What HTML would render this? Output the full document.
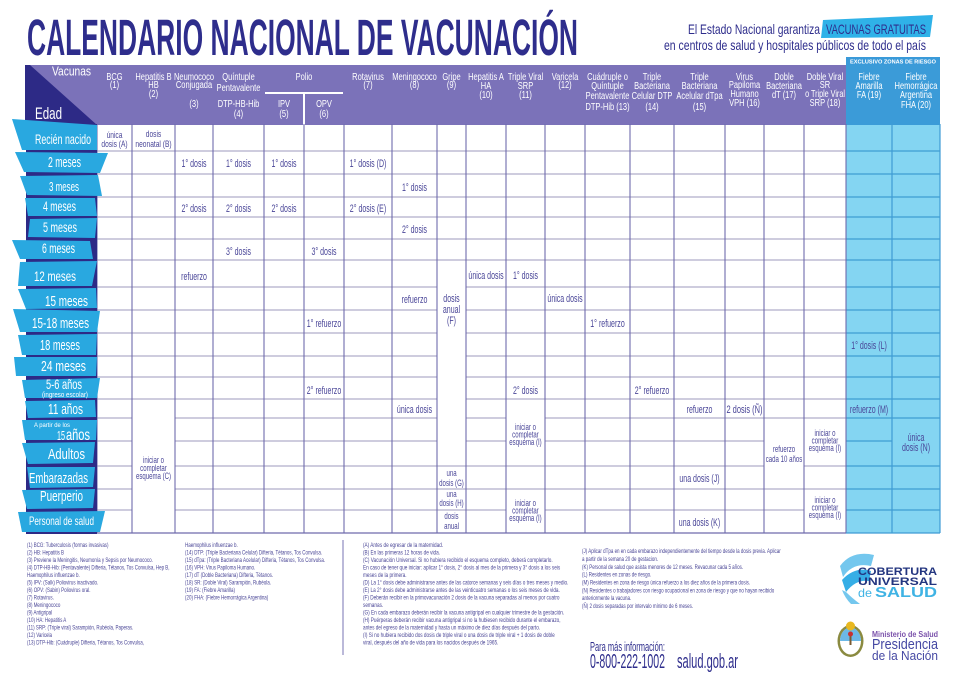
<!DOCTYPE html>
<html><head><meta charset="utf-8">
<style>
html,body{margin:0;padding:0;background:#fff;}
svg{display:block}
text{font-family:"Liberation Sans",sans-serif;}
.h{font-size:10px;fill:#fff;text-anchor:middle}
.c{font-size:11px;fill:#4a4698;text-anchor:middle}
.m{font-size:9.5px;fill:#4a4698;text-anchor:middle}
.f{font-size:6.4px;fill:#4a4696}
.r{fill:#fff}
</style></head>
<body>
<svg width="955" height="675" viewBox="0 0 955 675" xmlns="http://www.w3.org/2000/svg">
<rect width="955" height="675" fill="#fff"/>

<!-- Title -->
<text x="27" y="55" font-size="51" font-weight="bold" textLength="551" lengthAdjust="spacingAndGlyphs" fill="#2e2d8c">CALENDARIO NACIONAL DE VACUNACIÓN</text>

<!-- Subtitle -->
<text x="688" y="34" font-size="14" textLength="132" lengthAdjust="spacingAndGlyphs" fill="#2e2d8c">El Estado Nacional garantiza</text>
<polygon points="823,20 933,15 930,37 821,38" fill="#2fb2e8"/>
<text x="826" y="34" font-size="14" textLength="100" lengthAdjust="spacingAndGlyphs" fill="#2e2d8c">VACUNAS GRATUITAS</text>
<text x="664" y="50" font-size="14" textLength="262" lengthAdjust="spacingAndGlyphs" fill="#2e2d8c">en centros de salud y hospitales públicos de todo el país</text>

<!-- Exclusivo bar -->
<rect x="846" y="57" width="94" height="8.5" fill="#3a9ad9"/>
<text x="850" y="63.5" font-size="5.5" font-weight="bold" textLength="86" lengthAdjust="spacingAndGlyphs" fill="#fff">EXCLUSIVO ZONAS DE RIESGO</text>

<!-- Header band -->
<rect x="25" y="65" width="821" height="60" fill="#7b72b9"/>
<rect x="846" y="65" width="94" height="60" fill="#3b9bd8"/>
<polygon points="25,65 30,65 97,125 25,125" fill="#2d2a86"/>
<text x="52" y="75.5" font-size="13" textLength="39" lengthAdjust="spacingAndGlyphs" fill="#fff">Vacunas</text>
<text x="35" y="119" font-size="17" textLength="27" lengthAdjust="spacingAndGlyphs" fill="#fff">Edad</text>

<!-- Polio lines -->
<path d="M265 93H343M304 93V125" stroke="#fff" stroke-width="2" fill="none"/>

<!-- Header texts -->
<g>
<text class="h" transform="translate(114.5,80) scale(.75,1)">BCG</text>
<text class="h" transform="translate(114.5,88) scale(.75,1)">(1)</text>
<text class="h" transform="translate(153.5,80) scale(.75,1)">Hepatitis B</text>
<text class="h" transform="translate(153.5,88) scale(.75,1)">HB</text>
<text class="h" transform="translate(153.5,97) scale(.75,1)">(2)</text>
<text class="h" transform="translate(194,80) scale(.75,1)">Neumococo</text>
<text class="h" transform="translate(194,88) scale(.75,1)">Conjugada</text>
<text class="h" transform="translate(194,107) scale(.75,1)">(3)</text>
<text class="h" transform="translate(238.5,80) scale(.75,1)">Quíntuple</text>
<text class="h" transform="translate(238.5,91) scale(.75,1)">Pentavalente</text>
<text class="h" transform="translate(238.5,107) scale(.75,1)">DTP-HB-Hib</text>
<text class="h" transform="translate(238.5,117) scale(.75,1)">(4)</text>
<text class="h" transform="translate(304,80) scale(.75,1)">Polio</text>
<text class="h" transform="translate(284,107) scale(.75,1)">IPV</text>
<text class="h" transform="translate(284,117) scale(.75,1)">(5)</text>
<text class="h" transform="translate(324,107) scale(.75,1)">OPV</text>
<text class="h" transform="translate(324,117) scale(.75,1)">(6)</text>
<text class="h" transform="translate(368,80) scale(.75,1)">Rotavirus</text>
<text class="h" transform="translate(368,88) scale(.75,1)">(7)</text>
<text class="h" transform="translate(414.5,80) scale(.75,1)">Meningococo</text>
<text class="h" transform="translate(414.5,88) scale(.75,1)">(8)</text>
<text class="h" transform="translate(451.5,80) scale(.75,1)">Gripe</text>
<text class="h" transform="translate(451.5,88) scale(.75,1)">(9)</text>
<text class="h" transform="translate(486,80) scale(.75,1)">Hepatitis A</text>
<text class="h" transform="translate(486,89) scale(.75,1)">HA</text>
<text class="h" transform="translate(486,98) scale(.75,1)">(10)</text>
<text class="h" transform="translate(525.5,80) scale(.75,1)">Triple Viral</text>
<text class="h" transform="translate(525.5,89) scale(.75,1)">SRP</text>
<text class="h" transform="translate(525.5,98) scale(.75,1)">(11)</text>
<text class="h" transform="translate(565,80) scale(.75,1)">Varicela</text>
<text class="h" transform="translate(565,88) scale(.75,1)">(12)</text>
<text class="h" transform="translate(607.5,80) scale(.75,1)">Cuádruple o</text>
<text class="h" transform="translate(607.5,89) scale(.75,1)">Quíntuple</text>
<text class="h" transform="translate(607.5,99) scale(.75,1)">Pentavalente</text>
<text class="h" transform="translate(607.5,110) scale(.75,1)">DTP-Hib (13)</text>
<text class="h" transform="translate(652,80) scale(.75,1)">Triple</text>
<text class="h" transform="translate(652,89) scale(.75,1)">Bacteriana</text>
<text class="h" transform="translate(652,99) scale(.75,1)">Celular DTP</text>
<text class="h" transform="translate(652,110) scale(.75,1)">(14)</text>
<text class="h" transform="translate(699.5,80) scale(.75,1)">Triple</text>
<text class="h" transform="translate(699.5,89) scale(.75,1)">Bacteriana</text>
<text class="h" transform="translate(699.5,99) scale(.75,1)">Acelular dTpa</text>
<text class="h" transform="translate(699.5,110) scale(.75,1)">(15)</text>
<text class="h" transform="translate(744.5,80) scale(.75,1)">Virus</text>
<text class="h" transform="translate(744.5,88) scale(.75,1)">Papiloma</text>
<text class="h" transform="translate(744.5,97) scale(.75,1)">Humano</text>
<text class="h" transform="translate(744.5,106) scale(.75,1)">VPH (16)</text>
<text class="h" transform="translate(784,80) scale(.75,1)">Doble</text>
<text class="h" transform="translate(784,89) scale(.75,1)">Bacteriana</text>
<text class="h" transform="translate(784,98) scale(.75,1)">dT (17)</text>
<text class="h" transform="translate(825,80) scale(.75,1)">Doble Viral</text>
<text class="h" transform="translate(825,88) scale(.75,1)">SR</text>
<text class="h" transform="translate(825,97) scale(.72,1)">o Triple Viral</text>
<text class="h" transform="translate(825,106) scale(.75,1)">SRP (18)</text>
<text class="h" transform="translate(869,80) scale(.75,1)">Fiebre</text>
<text class="h" transform="translate(869,89) scale(.75,1)">Amarilla</text>
<text class="h" transform="translate(869,98) scale(.75,1)">FA (19)</text>
<text class="h" transform="translate(916,80) scale(.75,1)">Fiebre</text>
<text class="h" transform="translate(916,89) scale(.75,1)">Hemorrágica</text>
<text class="h" transform="translate(916,98) scale(.75,1)">Argentina</text>
<text class="h" transform="translate(916,108) scale(.75,1)">FHA (20)</text>
</g>

<!-- Table body backgrounds -->
<rect x="97" y="125" width="749" height="408" fill="#fff"/>
<rect x="846" y="125" width="94" height="408" fill="#84d5f2"/>

<!-- Horizontal lines -->
<path d="M97 151H846M97 174H846M97 197H846M97 217H846M97 239H846M97 260H846
M97 287H437M466 287H846M97 310H437M466 310H846M97 333H437M466 333H846M97 356H437M466 356H846M97 377H437M466 377H846M97 399H437M466 399H846
M97 418H132M175 418H437M466 418H506M545 418H846
M97 441H132M175 441H437M466 441H506M545 441H764
M97 466H132M175 466H764M804 466H846
M97 489H132M175 489H846
M97 510H132M175 510H506M545 510H804" stroke="#bdbcd4" stroke-width="1.6" fill="none"/>
<path d="M846 151H940M846 174H940M846 197H940M846 217H940M846 239H940M846 260H940M846 287H940M846 310H940M846 333H940M846 356H940M846 377H940M846 399H940M846 418H940M846 441H892M846 466H940M846 489H940M846 510H940" stroke="#4aa6d8" stroke-width="1.4" fill="none"/>

<!-- Vertical lines -->
<path d="M97 124V533M132 124V533M175 124V533M213 124V533M264 124V533M304 124V533M344 124V533M392 124V533M437 124V533M466 124V533M506 124V533M545 124V533M585 124V533M630 124V533M674 124V533M725 124V533M764 124V533M804 124V533M846 124V533" stroke="#6f6bac" stroke-width="1.1" fill="none"/>
<path d="M892 124V533M940 124V533" stroke="#3f9bd4" stroke-width="1.2" fill="none"/>
<path d="M97 533H846" stroke="#6f6bac" stroke-width="1.2"/>
<path d="M846 533H940" stroke="#3f9bd4" stroke-width="1.2"/>

<!-- Left navy strip -->
<rect x="26" y="124" width="71" height="410" fill="#2d2a86"/>

<!-- Ribbons -->
<g fill="#29a8e0">
<polygon points="12,119 97,125 97,150 22,150"/>
<polygon points="15,152 108,153 100,173 24,172"/>
<polygon points="20,176 98,175 102,196 27,195"/>
<polygon points="25,198 95,198 97,216 28,216"/>
<polygon points="30,219 97,218 95,238 28,237"/>
<polygon points="12,240 90,241 93,259 20,259"/>
<polygon points="20,262 97,261 92,286 18,286"/>
<polygon points="18,289 96,288 97,308 26,309"/>
<polygon points="13,309 100,311 97,332 20,332"/>
<polygon points="18,335 97,334 96,355 22,355"/>
<polygon points="14,357 97,357 96,376 16,376"/>
<polygon points="22,380 100,378 97,398 25,398"/>
<polygon points="25,401 95,400 96,417 28,418"/>
<polygon points="22,420 97,420 96,440 25,440"/>
<polygon points="22,443 95,442 93,463 28,464"/>
<polygon points="27,467 95,467 93,487 30,488"/>
<polygon points="22,490 95,489 93,508 27,509"/>
<polygon points="18,512 105,511 100,532 22,532"/>
</g>

<!-- Ribbon labels -->
<g class="r">
<text x="35" y="144" font-size="14" textLength="56" lengthAdjust="spacingAndGlyphs">Recién nacido</text>
<text x="48" y="167" font-size="15" textLength="33" lengthAdjust="spacingAndGlyphs">2 meses</text>
<text x="49" y="191" font-size="13" textLength="30" lengthAdjust="spacingAndGlyphs">3 meses</text>
<text x="43" y="211" font-size="14" textLength="33" lengthAdjust="spacingAndGlyphs">4 meses</text>
<text x="43" y="232" font-size="14" textLength="34" lengthAdjust="spacingAndGlyphs">5 meses</text>
<text x="42" y="253" font-size="14" textLength="33" lengthAdjust="spacingAndGlyphs">6 meses</text>
<text x="34" y="281" font-size="14" textLength="42" lengthAdjust="spacingAndGlyphs">12 meses</text>
<text x="45" y="306" font-size="15" textLength="43" lengthAdjust="spacingAndGlyphs">15 meses</text>
<text x="32" y="328" font-size="15" textLength="57" lengthAdjust="spacingAndGlyphs">15-18 meses</text>
<text x="40" y="350" font-size="15" textLength="40" lengthAdjust="spacingAndGlyphs">18 meses</text>
<text x="41" y="371" font-size="15" textLength="45" lengthAdjust="spacingAndGlyphs">24 meses</text>
<text x="46" y="389" font-size="14" textLength="36" lengthAdjust="spacingAndGlyphs">5-6 años</text>
<text x="42" y="397" font-size="7" textLength="46" lengthAdjust="spacingAndGlyphs">(ingreso escolar)</text>
<text x="48" y="414" font-size="15" textLength="35" lengthAdjust="spacingAndGlyphs">11 años</text>
<text x="34" y="427" font-size="6.5" textLength="36" lengthAdjust="spacingAndGlyphs">A partir de los</text>
<text x="57" y="440" font-size="13" textLength="8" lengthAdjust="spacingAndGlyphs">15</text>
<text x="66" y="440" font-size="16" textLength="24" lengthAdjust="spacingAndGlyphs">años</text>
<text x="48" y="459" font-size="15" textLength="37" lengthAdjust="spacingAndGlyphs">Adultos</text>
<text x="29" y="483" font-size="15" textLength="59" lengthAdjust="spacingAndGlyphs">Embarazadas</text>
<text x="40" y="501" font-size="15" textLength="43" lengthAdjust="spacingAndGlyphs">Puerperio</text>
<text x="29" y="525" font-size="12" textLength="65" lengthAdjust="spacingAndGlyphs">Personal de salud</text>
</g>

<!-- Cell texts -->
<g>
<text class="m" transform="translate(114.5,138) scale(.7,1)">única</text>
<text class="m" transform="translate(114.5,147) scale(.7,1)">dosis (A)</text>
<text class="m" transform="translate(153.5,137) scale(.7,1)">dosis</text>
<text class="m" transform="translate(153.5,147) scale(.7,1)">neonatal (B)</text>

<text class="c" transform="translate(194,167) scale(.64,1)">1° dosis</text>
<text class="c" transform="translate(238.5,167) scale(.64,1)">1° dosis</text>
<text class="c" transform="translate(284,167) scale(.64,1)">1° dosis</text>
<text class="c" transform="translate(368,167) scale(.64,1)">1° dosis (D)</text>
<text class="c" transform="translate(414.5,191) scale(.64,1)">1° dosis</text>
<text class="c" transform="translate(194,212) scale(.64,1)">2° dosis</text>
<text class="c" transform="translate(238.5,212) scale(.64,1)">2° dosis</text>
<text class="c" transform="translate(284,212) scale(.64,1)">2° dosis</text>
<text class="c" transform="translate(368,212) scale(.64,1)">2° dosis (E)</text>
<text class="c" transform="translate(414.5,233) scale(.64,1)">2° dosis</text>
<text class="c" transform="translate(238.5,255) scale(.64,1)">3° dosis</text>
<text class="c" transform="translate(324,255) scale(.64,1)">3° dosis</text>
<text class="c" transform="translate(194,280) scale(.64,1)">refuerzo</text>
<text class="c" transform="translate(486,279) scale(.64,1)">única dosis</text>
<text class="c" transform="translate(525.5,279) scale(.64,1)">1° dosis</text>
<text class="c" transform="translate(414.5,303) scale(.64,1)">refuerzo</text>
<text class="c" transform="translate(565,302) scale(.64,1)">única dosis</text>
<text class="c" transform="translate(451.5,302) scale(.64,1)">dosis</text>
<text class="c" transform="translate(451.5,313) scale(.64,1)">anual</text>
<text class="c" transform="translate(451.5,324) scale(.64,1)">(F)</text>
<text class="c" transform="translate(324,327) scale(.64,1)">1° refuerzo</text>
<text class="c" transform="translate(607.5,327) scale(.64,1)">1° refuerzo</text>
<text class="c" transform="translate(869,349) scale(.64,1)">1° dosis (L)</text>
<text class="c" transform="translate(324,394) scale(.64,1)">2° refuerzo</text>
<text class="c" transform="translate(525.5,394) scale(.64,1)">2° dosis</text>
<text class="c" transform="translate(652,394) scale(.64,1)">2° refuerzo</text>
<text class="c" transform="translate(414.5,413) scale(.64,1)">única dosis</text>
<text class="c" transform="translate(699.5,413) scale(.64,1)">refuerzo</text>
<text class="c" transform="translate(744.5,413) scale(.68,1)">2 dosis (Ñ)</text>
<text class="c" transform="translate(869,413) scale(.64,1)">refuerzo (M)</text>

<text class="m" transform="translate(153.5,463) scale(.64,1)">iniciar o</text>
<text class="m" transform="translate(153.5,471) scale(.64,1)">completar</text>
<text class="m" transform="translate(153.5,479) scale(.64,1)">esquema (C)</text>

<text class="m" transform="translate(525.5,430) scale(.64,1)">iniciar o</text>
<text class="m" transform="translate(525.5,437.5) scale(.64,1)">completar</text>
<text class="m" transform="translate(525.5,445) scale(.64,1)">esquema (I)</text>
<text class="m" transform="translate(525.5,506) scale(.64,1)">iniciar o</text>
<text class="m" transform="translate(525.5,513.5) scale(.64,1)">completar</text>
<text class="m" transform="translate(525.5,521) scale(.64,1)">esquema (I)</text>

<text class="m" transform="translate(825,436) scale(.64,1)">iniciar o</text>
<text class="m" transform="translate(825,443.5) scale(.64,1)">completar</text>
<text class="m" transform="translate(825,451) scale(.64,1)">esquema (I)</text>
<text class="m" transform="translate(825,503) scale(.64,1)">iniciar o</text>
<text class="m" transform="translate(825,510.5) scale(.64,1)">completar</text>
<text class="m" transform="translate(825,518) scale(.64,1)">esquema (I)</text>

<text class="m" transform="translate(784,452) scale(.64,1)">refuerzo</text>
<text class="m" transform="translate(784,462) scale(.64,1)">cada 10 años</text>

<text class="c" transform="translate(916,441) scale(.64,1)">única</text>
<text class="c" transform="translate(916,451) scale(.64,1)">dosis (N)</text>

<text class="m" transform="translate(451.5,476) scale(.64,1)">una</text>
<text class="m" transform="translate(451.5,486) scale(.64,1)">dosis (G)</text>
<text class="m" transform="translate(451.5,497) scale(.64,1)">una</text>
<text class="m" transform="translate(451.5,506) scale(.64,1)">dosis (H)</text>
<text class="m" transform="translate(451.5,519) scale(.64,1)">dosis</text>
<text class="m" transform="translate(451.5,529) scale(.64,1)">anual</text>

<text class="c" transform="translate(699.5,482) scale(.64,1)">una dosis (J)</text>
<text class="c" transform="translate(699.5,526) scale(.64,1)">una dosis (K)</text>
</g>

<!-- Footnotes -->
<g>
<text class="f" transform="translate(27,547) scale(.7,1)">(1) BCG: Tuberculosis (formas invasivas)</text>
<text class="f" transform="translate(27,554.5) scale(.7,1)">(2) HB: Hepatitis B</text>
<text class="f" transform="translate(27,562) scale(.7,1)">(3) Previene la Meningitis, Neumonía y Sepsis por Neumococo.</text>
<text class="f" transform="translate(27,569.5) scale(.7,1)">(4) DTP-HB-Hib: (Pentavalente) Difteria, Tétanos, Tos Convulsa, Hep B,</text>
<text class="f" transform="translate(27,577) scale(.7,1)">Haemophilus influenzae b.</text>
<text class="f" transform="translate(27,584.5) scale(.7,1)">(5) IPV: (Salk) Poliovirus inactivado.</text>
<text class="f" transform="translate(27,592) scale(.7,1)">(6) OPV: (Sabin) Poliovirus oral.</text>
<text class="f" transform="translate(27,599.5) scale(.7,1)">(7) Rotavirus.</text>
<text class="f" transform="translate(27,607) scale(.7,1)">(8) Meningococo</text>
<text class="f" transform="translate(27,614.5) scale(.7,1)">(9) Antigripal</text>
<text class="f" transform="translate(27,622) scale(.7,1)">(10) HA: Hepatitis A</text>
<text class="f" transform="translate(27,629.5) scale(.7,1)">(11) SRP: (Triple viral) Sarampión, Rubéola, Paperas.</text>
<text class="f" transform="translate(27,637) scale(.7,1)">(12) Varicela</text>
<text class="f" transform="translate(27,644.5) scale(.7,1)">(13) DTP-Hib: (Cuádruple) Difteria, Tétanos, Tos Convulsa,</text>

<text class="f" transform="translate(185,547) scale(.7,1)">Haemophilus influenzae b.</text>
<text class="f" transform="translate(185,554.5) scale(.7,1)">(14) DTP: (Triple Bacteriana Celular) Difteria, Tétanos, Tos Convulsa.</text>
<text class="f" transform="translate(185,562) scale(.7,1)">(15) dTpa: (Triple Bacteriana Acelular) Difteria, Tétanos, Tos Convulsa.</text>
<text class="f" transform="translate(185,569.5) scale(.7,1)">(16) VPH: Virus Papiloma Humano.</text>
<text class="f" transform="translate(185,577) scale(.7,1)">(17) dT (Doble Bacteriana) Difteria, Tétanos.</text>
<text class="f" transform="translate(185,584.5) scale(.7,1)">(18) SR: (Doble Viral) Sarampión, Rubéola.</text>
<text class="f" transform="translate(185,592) scale(.7,1)">(19) FA: (Fiebre Amarilla)</text>
<text class="f" transform="translate(185,599.5) scale(.7,1)">(20) FHA: (Fiebre Hemorrágica Argentina)</text>

<path d="M343 540V655" stroke="#7773b3" stroke-width="1"/>

<text class="f" transform="translate(363,547) scale(.73,1)">(A) Antes de egresar de la maternidad.</text>
<text class="f" transform="translate(363,554.5) scale(.73,1)">(B) En las primeras 12 horas de vida.</text>
<text class="f" transform="translate(363,562) scale(.73,1)">(C) Vacunación Universal. Si no hubiera recibido el esquema completo, deberá completarlo.</text>
<text class="f" transform="translate(363,569.5) scale(.73,1)">En caso de tener que iniciar: aplicar 1° dosis, 2° dosis al mes de la primera y 3° dosis a los seis</text>
<text class="f" transform="translate(363,577) scale(.73,1)">meses de la primera.</text>
<text class="f" transform="translate(363,584.5) scale(.73,1)">(D) La 1° dosis debe administrarse antes de las catorce semanas y seis días o tres meses y medio.</text>
<text class="f" transform="translate(363,592) scale(.73,1)">(E) La 2° dosis debe administrarse antes de las veinticuatro semanas o los seis meses de vida.</text>
<text class="f" transform="translate(363,599.5) scale(.73,1)">(F) Deberán recibir en la primovacunación 2 dosis de la vacuna separadas al menos por cuatro</text>
<text class="f" transform="translate(363,607) scale(.73,1)">semanas.</text>
<text class="f" transform="translate(363,614.5) scale(.73,1)">(G) En cada embarazo deberán recibir la vacuna antigripal en cualquier trimestre de la gestación.</text>
<text class="f" transform="translate(363,622) scale(.73,1)">(H) Puérperas deberán recibir vacuna antigripal si no la hubiesen recibido durante el embarazo,</text>
<text class="f" transform="translate(363,629.5) scale(.73,1)">antes del egreso de la maternidad y hasta un máximo de diez días después del parto.</text>
<text class="f" transform="translate(363,637) scale(.73,1)">(I) Si no hubiera recibido dos dosis de triple viral o una dosis de triple viral + 1 dosis de doble</text>
<text class="f" transform="translate(363,644.5) scale(.73,1)">viral, después del año de vida para los nacidos después de 1965.</text>

<text class="f" transform="translate(582,553) scale(.7,1)">(J) Aplicar dTpa en en cada embarazo independientemente del tiempo desde la dosis previa. Aplicar</text>
<text class="f" transform="translate(582,561) scale(.7,1)">a partir de la semana 20 de gestacion.</text>
<text class="f" transform="translate(582,569) scale(.7,1)">(K) Personal de salud que asista menores de 12 meses. Revacunar cada 5 años.</text>
<text class="f" transform="translate(582,576.5) scale(.7,1)">(L) Residentes en zonas de riesgo.</text>
<text class="f" transform="translate(582,584.5) scale(.7,1)">(M) Residentes en zona de riesgo única refuerzo a los diez años de la primera dosis.</text>
<text class="f" transform="translate(582,592.5) scale(.7,1)">(N) Residentes o trabajadores con riesgo ocupacional en zona de riesgo y que no hayan recibido</text>
<text class="f" transform="translate(582,600) scale(.7,1)">anteriormente la vacuna.</text>
<text class="f" transform="translate(582,608) scale(.7,1)">(Ñ) 2 dosis separadas por intervalo mínimo de 6 meses.</text>
</g>

<!-- Contact -->
<text x="590" y="651" font-size="13" textLength="75" lengthAdjust="spacingAndGlyphs" fill="#2e2d8c">Para más información:</text>
<text x="590" y="668" font-size="20" textLength="75" lengthAdjust="spacingAndGlyphs" fill="#2e2d8c">0-800-222-1002</text>
<text x="677" y="668" font-size="20" textLength="61" lengthAdjust="spacingAndGlyphs" fill="#2e2d8c">salud.gob.ar</text>

<!-- Cobertura logo -->
<path d="M840 566 Q852 550 874 555 L871 566 Q853 562 843 577 Z" fill="#74c7ee"/>
<path d="M842 580 Q855 566 871 571 L869 581 Q856 579 846 592 Z" fill="#36aee6"/>
<path d="M846 592 Q852 598 860 604 L851 604 Q845 598 842 590 Z" fill="#74c7ee"/>
<text x="858" y="575" font-size="11" font-weight="bold" textLength="79" lengthAdjust="spacingAndGlyphs" fill="#23357f">COBERTURA</text>
<text x="858" y="585" font-size="11" font-weight="bold" textLength="79" lengthAdjust="spacingAndGlyphs" fill="#23357f">UNIVERSAL</text>
<text x="858" y="597" font-size="12" textLength="14" lengthAdjust="spacingAndGlyphs" fill="#3fb3e4">de</text>
<text x="875" y="597" font-size="15" font-weight="bold" textLength="62" lengthAdjust="spacingAndGlyphs" fill="#3fb3e4">SALUD</text>

<!-- Ministerio logo -->
<ellipse cx="850.5" cy="641" rx="13" ry="16" fill="#8a8a40"/>
<ellipse cx="850.5" cy="641" rx="10.5" ry="13.5" fill="#fff"/>
<path d="M840 641 A10.5 13.5 0 0 1 861 641 Z" fill="#6cb8e6"/>
<circle cx="850.5" cy="626" r="4.5" fill="#e8b820"/>
<rect x="849.5" y="633" width="2" height="12" fill="#7a5a30"/>
<circle cx="850.5" cy="634" r="2.5" fill="#c83030"/>
<text x="872" y="637" font-size="8" font-weight="bold" textLength="66" lengthAdjust="spacingAndGlyphs" fill="#7b52ab">Ministerio de Salud</text>
<text x="872" y="649" font-size="15" textLength="66" lengthAdjust="spacingAndGlyphs" fill="#4548a3">Presidencia</text>
<text x="872" y="660" font-size="13" textLength="66" lengthAdjust="spacingAndGlyphs" fill="#4548a3">de la Nación</text>
</svg>
</body></html>
